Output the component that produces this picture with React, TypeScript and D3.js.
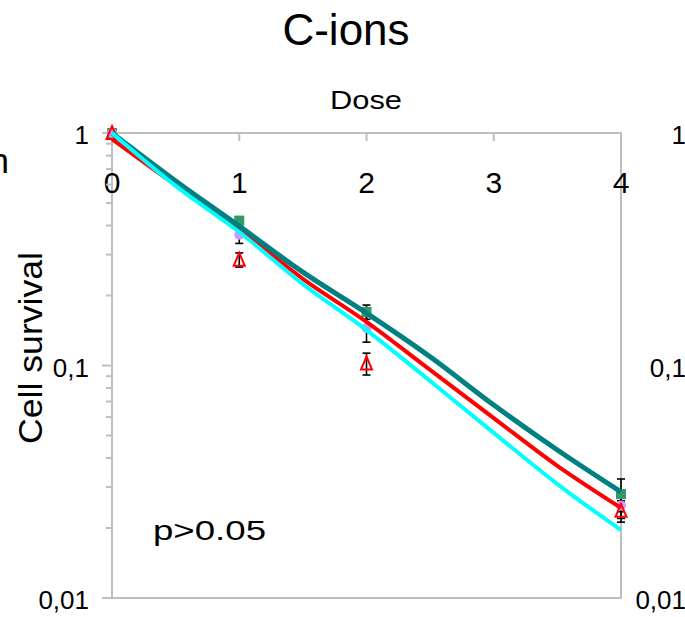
import React from "react";
import * as d3 from "d3";

// ---- data ----
const doses = [0, 1, 2, 4];
const squareSF = [1, 0.42, 0.17, 0.028];
const squareErr = [0, 0.01, 0.012, 0.0045];
const circleSF = [1, 0.365, 0.145, 0.025];
const circleErr = [0, 0.03, 0.019, 0.003];
const triangleSF = [1, 0.285, 0.102, 0.0237];
const triangleErr = [0, 0.02, 0.011, 0.0025];

const fitDoses = [0, 0.5, 1, 1.5, 2, 2.5, 3, 3.5, 4];
const tealFit = [1.0, 0.622, 0.398, 0.252, 0.168, 0.109, 0.0676, 0.0433, 0.0286];
const redFit = [0.942, 0.598, 0.387, 0.236, 0.154, 0.0957, 0.0594, 0.037, 0.0244];
const cyanFit = [1.0, 0.592, 0.375, 0.224, 0.142, 0.0858, 0.0513, 0.0309, 0.0196];

const xTicks = [0, 1, 2, 3, 4];
const yMajor = [1, 0.1, 0.01];
const yMajorLabels = ["1", "0,1", "0,01"];

const W = 685;
const H = 617;
const FONT = "'Liberation Sans', Arial, Helvetica, sans-serif";

export default function App() {
  const x = d3.scaleLinear().domain([0, 4]).range([112, 621]);
  const y = d3.scaleLog().domain([0.01, 1]).range([598, 133]);

  const minor: number[] = [];
  [0.01, 0.1].forEach((base) => {
    for (let k = 2; k <= 9; k++) minor.push(base * k);
  });

  const line = d3
    .line<number>()
    .x((_, i) => x(fitDoses[i]))
    .y((v) => y(v))
    .curve(d3.curveMonotoneX);

  const gray = "#BFBFBF";

  const errBar = (d: number, v: number, e: number, key: string) => {
    if (!e) return null;
    const cx = x(d);
    const y1 = y(v + e);
    const y2 = y(v - e);
    return (
      <g key={key} stroke="#000" strokeWidth={1.6}>
        <line x1={cx} x2={cx} y1={y1} y2={y2} />
        <line x1={cx - 4} x2={cx + 4} y1={y1} y2={y1} />
        <line x1={cx - 4} x2={cx + 4} y1={y2} y2={y2} />
      </g>
    );
  };

  return (
    <svg
      width={W}
      height={H}
      style={{ position: "absolute", left: 0, top: 0, background: "#fff" }}
      fontFamily={FONT}
    >
      <rect x={0} y={0} width={W} height={H} fill="#fff" />
      {/* title */}
      <text x={346} y={45} fontSize={44} textAnchor="middle" fill="#000">
        C-ions
      </text>
      {/* remnant of previous panel */}
      <text x={9} y={173} fontSize={35} textAnchor="end" fill="#000">
        n
      </text>
      {/* axis title */}
      <text
        x={366}
        y={109}
        fontSize={25}
        textAnchor="middle"
        textLength={72}
        lengthAdjust="spacingAndGlyphs"
        fill="#000"
      >
        Dose
      </text>
      <text
        transform={`translate(42,348) rotate(-90)`}
        fontSize={33}
        textAnchor="middle"
        textLength={192}
        lengthAdjust="spacingAndGlyphs"
        fill="#000"
      >
        Cell survival
      </text>

      {/* frame */}
      <rect
        x={x(0)}
        y={y(1)}
        width={x(4) - x(0)}
        height={y(0.01) - y(1)}
        fill="none"
        stroke={gray}
        strokeWidth={2}
      />
      {/* x ticks (top axis, pointing down) */}
      {xTicks.map((t) => (
        <line key={"xt" + t} x1={x(t)} x2={x(t)} y1={y(1)} y2={y(1) + 8} stroke={gray} strokeWidth={2} />
      ))}
      {xTicks.map((t) => (
        <text key={"xl" + t} x={x(t)} y={193} fontSize={30} textAnchor="middle" fill="#000">
          {t}
        </text>
      ))}
      {/* y ticks */}
      {yMajor.map((v) => (
        <line key={"ym" + v} x1={x(0) - 10} x2={x(0)} y1={y(v)} y2={y(v)} stroke={gray} strokeWidth={2} />
      ))}
      {minor.map((v) => (
        <line key={"yn" + v} x1={x(0) - 6} x2={x(0)} y1={y(v)} y2={y(v)} stroke={gray} strokeWidth={2} />
      ))}
      {yMajor.map((v, i) => (
        <text key={"yl" + v} x={89} y={y(v) + 11} fontSize={26} textAnchor="end" fill="#000">
          {yMajorLabels[i]}
        </text>
      ))}
      {/* next panel's labels */}
      {yMajor.map((v, i) => (
        <text key={"yr" + v} x={686} y={y(v) + 11} fontSize={26} textAnchor="end" fill="#000">
          {yMajorLabels[i]}
        </text>
      ))}

      {/* error bars */}
      {doses.map((d, i) => errBar(d, squareSF[i], squareErr[i], "es" + i))}
      {doses.map((d, i) => errBar(d, circleSF[i], circleErr[i], "ec" + i))}
      {doses.map((d, i) => errBar(d, triangleSF[i], triangleErr[i], "et" + i))}

      {/* markers */}
      {doses.map((d, i) => (
        <rect
          key={"sq" + i}
          x={x(d) - 5}
          y={y(squareSF[i]) - 5}
          width={10}
          height={10}
          fill="#339966"
        />
      ))}
      {doses.map((d, i) => (
        <circle key={"ci" + i} cx={x(d)} cy={y(circleSF[i])} r={5} fill="#CC99FF" />
      ))}
      {doses.map((d, i) => {
        const cx = x(d);
        const cy = y(triangleSF[i]);
        return (
          <path
            key={"tr" + i}
            d={`M${cx},${cy - 7}L${cx + 5.5},${cy + 6}L${cx - 5.5},${cy + 6}Z`}
            fill="none"
            stroke="#FF0000"
            strokeWidth={2}
          />
        );
      })}

      {/* fitted curves */}
      <path d={line(redFit) || ""} fill="none" stroke="#FF0000" strokeWidth={4} />
      <path d={line(tealFit) || ""} fill="none" stroke="#008080" strokeWidth={5} />
      <path d={line(cyanFit) || ""} fill="none" stroke="#00FFFF" strokeWidth={4} />

      {/* annotation */}
      <text
        x={153}
        y={540}
        fontSize={28}
        textLength={113}
        lengthAdjust="spacingAndGlyphs"
        fill="#000"
      >
        p&gt;0.05
      </text>
    </svg>
  );
}
